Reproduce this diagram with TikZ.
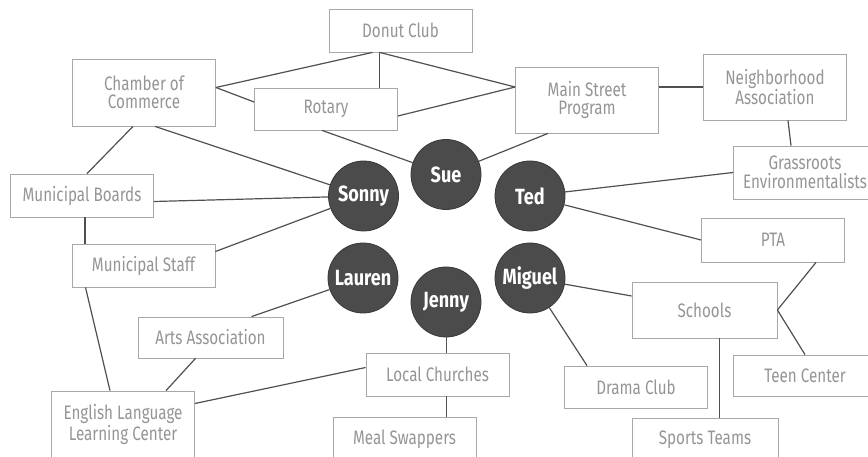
\documentclass[tikz,border=0pt]{standalone}
\usepackage{fontspec}
\setmainfont{Fira Sans}
\newfontfamily\orgfont[FakeStretch=0.78]{Fira Sans}
\newfontfamily\namefont[FakeStretch=0.82]{Fira Sans}
\definecolor{txtgray}{HTML}{959595}
\definecolor{boxgray}{HTML}{A8A8A8}
\definecolor{linkgray}{HTML}{505050}
\definecolor{dotfill}{HTML}{4B4B4B}
\definecolor{dotrim}{HTML}{383838}

\begin{document}
\begin{tikzpicture}[x=1pt, y=-1pt,
  org/.style={draw=boxgray, line width=0.8pt, text=txtgray, align=center,
    font=\orgfont\fontsize{19.5}{18.5}\selectfont, inner sep=1pt,
    minimum width=143pt, minimum height=43pt},
  person/.style={circle, fill=dotfill, draw=dotrim, line width=0.8pt,
    text=white, font=\namefont\bfseries\fontsize{22}{22}\selectfont,
    minimum size=70pt, inner sep=0pt},
  link/.style={linkgray, line width=1.2pt}]

% Page
\useasboundingbox (0,0) rectangle (868,457);

% People in the middle
\node[person] (sonny)  at (363.5,196) {Sonny};
\node[person] (sue)    at (446,174.5) {Sue};
\node[person] (ted)    at (530,196)   {Ted};
\node[person] (lauren) at (363,278)   {Lauren};
\node[person] (jenny)  at (446,302)   {Jenny};
\node[person] (miguel) at (530,278)   {Miguel};

% Groups, top
\node[org] (donut)    at (400.5,30.5) {Donut Club};
\node[org, minimum height=67pt] (chamber) at (144,92.5) {Chamber of\\Commerce};
\node[org, minimum height=42pt] (rotary)  at (326,109) {Rotary};
\node[org, minimum height=66pt] (mainst)  at (587,100) {Main Street\\Program};
\node[org, minimum height=66pt] (neighbor) at (775,87) {Neighborhood\\Association};
\node[org, minimum height=53pt] (grass)   at (805,172.5) {Grassroots\\Environmentalists};

% Groups, left
\node[org] (mboards)  at (82,195.5)   {Municipal Boards};
\node[org] (mstaff)   at (143.5,265.5) {Municipal Staff};
\node[org, minimum width=145pt, minimum height=41pt] (arts) at (210.5,337.5) {Arts Association};
\node[org, minimum height=67pt] (ellc) at (123,424.5) {English Language\\Learning Center};

% Groups, bottom
\node[org] (churches) at (437.5,374.5) {Local Churches};
\node[org, minimum height=44pt] (meal) at (404.5,439) {Meal Swappers};
\node[org, minimum height=42pt] (drama) at (636,387) {Drama Club};

% Groups, right
\node[org, minimum height=44pt] (pta) at (773,240) {PTA};
\node[org, minimum width=145pt, minimum height=56pt] (schools) at (704.5,310) {Schools};
\node[org, minimum width=144pt, minimum height=41pt] (teen) at (805,375.5) {Teen Center};
\node[org, minimum width=146pt, minimum height=44pt] (sports) at (705,440) {Sports Teams};

% Links among the groups at the top
\draw[link] ([xshift=-28]donut.south) -- ([yshift=5]chamber.east);
\draw[link] ([yshift=5]chamber.east) -- ([yshift=7]rotary.west);
\draw[link] ([xshift=-21]donut.south) -- ([xshift=-21]donut.south |- rotary.north);
\draw[link] ([xshift=-21]donut.south) -- ([yshift=13]mainst.west);
\draw[link] ([yshift=-7]rotary.east) -- ([yshift=13]mainst.west);
\draw[link] ([yshift=13]mainst.east) -- (neighbor.west);
\draw[link] ([xshift=13]neighbor.south) -- ([xshift=-14]grass.north);

% Links to Sue and Ted
\draw[link] ([xshift=-4]rotary.south) -- (sue);
\draw[link] ([xshift=-39]mainst.south) -- (sue);
\draw[link] (ted) -- (grass.west);
\draw[link] (ted) -- (pta.west);

% Links on the left
\draw[link] ([xshift=11]chamber.south) -- (sonny);
\draw[link] ([xshift=-11]chamber.south) -- ([xshift=5]mboards.north);
\draw[link] ([yshift=-6]mboards.east) -- (sonny);
\draw[link] ([xshift=3]mboards.south) -- ([xshift=3]mboards.south |- mstaff.north);
\draw[link] ([yshift=14]mstaff.east) -- (sonny);
\draw[link] ([xshift=-58]mstaff.south) -- ([xshift=-13]ellc.north);
\draw[link] (lauren) -- ([xshift=41]arts.north);
\draw[link] ([xshift=-15]arts.south) -- ([xshift=43]ellc.north);
\draw[link] ([yshift=21]ellc.east) -- ([yshift=7]churches.west);

% Links at the bottom
\draw[link] ([xshift=9]churches.north) -- ([xshift=9]churches.north |- jenny.south);
\draw[link] ([xshift=9]churches.south) -- ([xshift=9]churches.south |- meal.north);
\draw[link] (miguel) -- ([yshift=14]schools.west);
\draw[link] (miguel) -- ([xshift=-49]drama.north);
\draw[link] ([xshift=43]pta.south) -- (schools.east);
\draw[link] (schools.east) -- (teen.north);
\draw[link] ([xshift=15]schools.south) -- ([xshift=15]schools.south |- sports.north);

\end{tikzpicture}
\end{document}
